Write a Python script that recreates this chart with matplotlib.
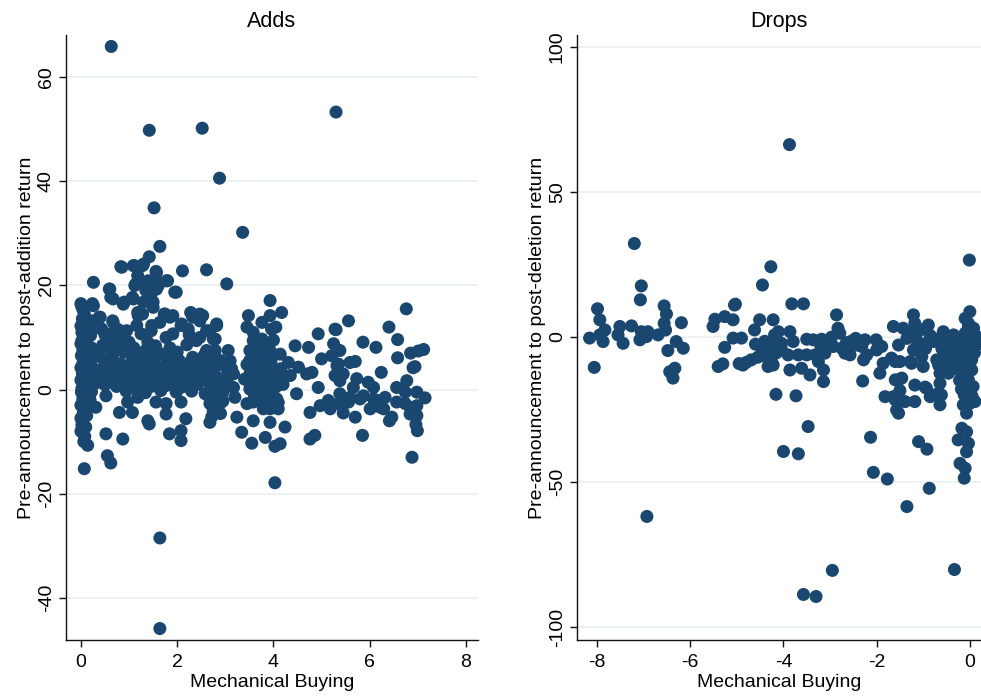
import matplotlib
matplotlib.use("Agg")
import matplotlib.pyplot as plt

plt.rcParams['font.family'] = ['Liberation Sans', 'DejaVu Sans']
plt.rcParams['axes.unicode_minus'] = False

# ---------------- Adds ----------------
adds_pts = [
    (0.63,65.9),(1.42,49.8),(2.52,50.2),(2.88,40.6),(1.52,34.9),(3.36,30.2),(5.3,53.3),(1.64,27.5),
    (1.42,25.5),(0.83,23.6),(1.11,23.8),(1.28,23.8),(1.18,21.9),(1.56,22.7),(2.11,22.8),(0.26,20.6),
    (1.14,20.3),(1.35,20.6),(1.59,20.6),(1.80,20.9),(0.59,19.3),(0.62,17.7),(0.9,16.8),(1.07,17.7),
    (1.35,19.0),(1.46,17.4),(1.56,19.3),(1.98,18.7),(1.18,14.8),(1.28,14.5),(1.73,14.5),(1.91,14.2),
    (0.0,16.5),(0.24,16.5),(0.03,13.6),(0.38,13.9),(0.66,13.2),
    (0.42,11.7),(0.55,10.0),(0.83,10.7),(1.0,9.1),(1.25,10.7),(1.39,9.1),(1.46,11.3),(1.77,10.0),
    (1.91,10.7),(2.08,12.3),(2.32,13.9),(2.53,14.2),
    (0.59,8.1),(0.69,7.5),(0.42,6.2),(0.52,4.9),
    (0.9,7.2),(1.07,6.2),(1.28,5.6),(1.49,6.2),(1.77,6.2),(2.04,5.6),(2.32,6.2),(2.53,6.2),
    (0.52,-1.2),(1.18,-1.5),(0.97,-2.4),(0.8,-4.4),(1.07,-4.4),(0.31,-3.4),(1.56,-2.4),(1.77,-2.7),
    (1.77,-4.7),(2.08,-2.4),(1.39,-6.0),(1.42,-6.6),(0.52,-8.5),(0.87,-9.5),(1.84,-8.5),(2.08,-7.9),
    (2.08,-9.8),(2.18,-5.6),(0.14,-10.7),(0.55,-12.7),(0.62,-14.1),(0.07,-15.2),
    (1.64,-28.5),(1.64,-45.9),(4.03,-17.9),
    (2.61,23.0),(3.03,20.3),(3.93,17.1),(4.17,14.8),(3.48,14.2),(3.45,12.0),(3.76,12.9),(3.93,14.2),
    (3.96,11.6),(2.82,12.6),(2.68,11.3),(2.79,9.7),(3.58,9.4),(3.76,9.7),(3.69,7.5),(3.51,7.5),
    (4.45,8.4),(4.73,8.1),(4.93,10.7),(5.28,11.6),(5.25,8.8),(5.0,5.9),(5.21,6.5),(5.38,7.5),
    (3.06,7.5),(2.58,6.8),(2.79,7.5),(2.58,4.6),(2.79,4.3),(2.99,4.6),(3.13,4.0),(3.93,7.5),
    (4.14,6.8),(4.31,5.2),(4.52,4.3),(4.69,3.0),(4.8,3.3),(4.35,2.7),(3.51,5.6),(3.51,3.0),
    (3.72,4.9),(3.86,4.3),(4.0,3.6),(3.79,2.1),(3.96,1.4),(4.1,2.4),(3.51,0.1),(3.45,-2.7),
    (3.58,-2.4),(3.76,-0.8),(3.93,-0.2),(3.89,-1.8),(4.07,-1.8),(3.79,-3.7),(3.93,-3.7),(4.1,-3.7),
    (3.2,-1.5),(3.24,-5.3),(3.58,-6.0),(3.93,-6.3),(4.24,-7.2),(2.68,-6.3),(3.34,-8.2),(3.55,-10.3),
    (3.83,-9.2),(4.03,-10.9),(4.14,-10.4),(4.76,-9.5),(4.86,-8.8),(4.93,0.4),(5.14,-2.1),(4.97,-3.1),
    (5.18,-3.7),(5.38,-0.8),(5.28,2.7),(5.35,4.9),(4.76,-4.4),(4.48,-0.8),
    (2.61,7.5),(2.75,6.2),(2.89,5.6),(2.61,3.0),(2.82,2.4),(3.03,1.7),(2.68,1.1),(3.17,3.0),
    (3.17,0.4),(2.68,-2.7),(2.89,-2.7),(2.75,-4.0),
    (6.76,15.5),(5.56,13.2),(5.3,11.5),(6.4,12.0),(6.58,9.6),(5.86,9.1),(6.13,8.1),(6.85,7.0),
    (7.01,7.4),(7.12,7.7),(6.58,6.1),(5.32,4.6),(5.59,5.2),(5.7,5.4),(6.9,4.2),(6.94,4.4),
    (6.24,3.3),(5.45,3.0),(5.73,2.1),(5.97,1.4),(5.38,1.7),(5.66,0.4),(6.08,0.4),(6.77,1.7),
    (6.56,0.4),(6.74,-0.5),(6.98,-0.5),(7.15,-1.6),(5.59,-1.5),(5.87,-1.2),(6.08,-1.8),(6.22,-2.1),
    (6.32,-1.5),(5.35,-2.7),(5.56,-2.4),(5.8,-1.8),(6.01,-3.7),(6.22,-3.4),(6.29,-3.7),(6.56,-2.4),
    (6.74,-2.7),(6.84,-3.4),(6.84,-4.7),(6.98,-3.1),(6.98,-5.0),(5.45,-4.5),(5.7,-5.3),(6.46,-5.3),
    (6.41,-6.0),(6.96,-6.7),(6.99,-7.9),(5.85,-8.8),(6.88,-13.0),
    (2.09,12.6),(2.23,11.6),(2.47,14.5),(2.47,13.2),(2.82,12.3),(2.61,11.3),(2.47,10.0),(2.75,9.7),
    (2.28,14.8),(1.75,14.5),(1.85,13.9),(1.47,12.3),(1.64,12.9),(1.16,12.3),(0.43,11.6),(0.6,10.7),
    (0.67,12.9),(1.19,14.2),(1.3,16.8),(1.5,15.8),(0.01,16.1),(0.26,16.1),(0.05,13.6),(0.22,13.2),
    (0.4,13.9),(1.09,17.4),(0.88,16.4),(0.6,19.3),(0.67,17.4),(1.4,20.9),(1.61,20.0),(1.78,20.9),
    (1.12,20.0),(1.37,19.0),(1.57,19.3),(1.4,17.4),(1.5,16.8),(1.95,18.7),(1.3,24.1),(1.09,23.8),
    (1.57,22.5),(0.85,23.5),
    # dense column near zero
    (0.0,-8.0),(0.02,-6.8),(0.0,-5.5),(0.05,-4.3),(0.0,-3.0),(0.04,-1.8),(0.01,-0.5),(0.06,0.6),
    (0.0,1.8),(0.03,3.0),(0.0,4.2),(0.05,5.3),(0.01,6.5),(0.04,7.6),(0.0,8.8),(0.06,9.9),
    (0.02,11.0),(0.0,12.2),(0.05,12.8),(0.07,14.6),(0.1,-7.2),(0.12,-5.0),(0.09,-2.6),(0.13,-0.9),
    (0.1,1.2),(0.14,2.6),(0.09,3.8),(0.12,5.8),(0.1,7.0),(0.15,8.3),(0.11,9.5),(0.14,11.2),
    (0.17,12.6),(0.2,10.4),(0.22,8.0),(0.2,5.1),(0.18,2.0),(0.22,-0.4),(0.19,-2.0),(0.25,3.5),
    (0.27,6.8),(0.3,1.2),(0.08,-9.0),(0.03,-6.1),(0.07,-3.6),(0.02,0.2),(0.08,2.3),(0.03,4.7),
    (0.07,6.0),(0.02,9.4),(0.08,10.6),(0.04,15.4),(0.16,-3.2),(0.15,4.0),(0.24,12.0),(0.06,-10.0),
    # dense band
    (0.38,3.8),(0.45,2.5),(0.5,0.9),(0.55,3.3),(0.6,5.6),(0.65,2.1),(0.7,4.1),(0.74,0.6),
    (0.78,3.0),(0.82,5.0),(0.86,1.7),(0.9,3.7),(0.94,-0.3),(0.98,2.6),(1.02,4.8),(1.06,1.2),
    (1.1,3.3),(1.15,0.2),(1.18,2.2),(1.22,4.4),(1.26,1.0),(1.3,3.0),(1.34,-0.6),(1.38,2.0),
    (1.42,4.2),(1.46,0.6),(1.5,2.8),(1.54,4.9),(1.58,1.5),(1.62,3.6),(1.66,-0.2),(1.7,2.3),
    (1.74,4.5),(1.78,0.8),(1.82,3.0),(1.86,5.2),(1.9,1.6),(1.94,3.7),(1.98,-0.5),(2.02,2.1),
    (2.06,4.2),(2.1,0.5),(2.14,2.8),(2.18,4.9),(2.22,1.3),(2.26,3.4),(2.3,-0.3),(2.34,2.0),
    (2.38,4.4),(2.42,1.0),(2.46,3.1),(2.5,5.2),(2.54,1.8),(2.58,-0.8),(2.62,2.5),(2.66,4.8),
    (2.7,0.2),(2.74,3.0),(2.85,0.8),(2.95,-0.5),
    (0.45,8.5),(0.5,10.5),(0.58,9.3),(0.66,6.7),(0.72,9.0),(0.78,11.5),(0.85,8.3),(0.95,11.3),
    (1.1,8.0),(1.2,6.8),(1.35,7.6),(1.55,8.4),(1.65,6.9),(1.85,8.0),(2.0,7.2),(2.2,8.6),
    (2.4,9.4),(2.25,10.5),
    (3.5,1.5),(3.6,-1.0),(3.65,1.0),(3.7,3.2),(3.8,-2.0),(3.85,0.6),(3.9,2.8),(3.95,5.5),
    (4.05,0.5),(4.1,-2.5),(4.15,4.0),(4.2,1.0),(3.55,4.0),(3.62,6.5),(3.75,6.0),(3.85,8.2),
    (4.0,9.5),(4.05,12.0),(3.58,11.0),(3.4,2.0),(3.45,4.8),
    (2.72,-5.2),(2.8,-3.4),(2.85,-1.6),(2.9,-4.6),(2.95,-2.2),(2.65,-1.2),(2.78,-0.3),
    (3.0,1.0),(3.1,5.5),(3.05,3.5),
]
adds_x = [p[0] for p in adds_pts]
adds_y = [p[1] for p in adds_pts]

# ---------------- Drops ----------------
drops_pts = [
    (-3.87,66.3),(-7.2,32.2),(-0.01,26.5),(-6.93,-61.9),(-3.57,-88.8),(-3.3,-89.5),(-2.95,-80.5),
    (-0.33,-80.2),(-1.35,-58.5),(-0.87,-52.2),(-1.77,-49.0),(-2.07,-46.7),(-2.13,-34.6),(-1.1,-36.1),
    (-0.92,-38.7),(-4.0,-39.5),(-3.68,-40.3),(-3.47,-30.9),(-4.16,-19.8),(-3.73,-20.3),
    (-4.27,24.2),(-4.45,17.9),(-7.05,17.6),(-7.07,12.8),(-7.99,9.7),(-6.56,10.7),(-6.51,7.9),
    (-6.56,4.7),(-6.53,2.4),(-6.19,4.9),(-5.03,11.3),(-7.94,5.9),(-7.83,2.4),(-8.16,-0.4),
    (-7.87,-1.6),(-7.94,0.7),(-7.51,3.6),(-7.55,0.7),(-7.44,-2.2),(-7.26,3.8),(-7.05,1.8),
    (-6.91,1.8),(-7.08,-1.0),(-6.94,0.1),(-6.69,0.7),(-6.48,-4.7),(-6.3,-1.6),(-6.15,-3.9),
    (-6.44,-12.0),(-6.33,-10.8),(-6.37,-14.2),(-8.06,-10.5),(-5.47,6.1),(-5.51,3.6),(-5.26,7.0),
    (-5.08,5.9),(-5.05,11.0),(-5.26,-3.6),(-5.4,-10.2),(-5.3,-9.3),(-5.08,-0.4),(-4.9,-0.4),
    (-4.87,-9.7),(-4.62,2.4),(-4.51,5.9),(-4.69,-7.9),(-4.47,-3.9),(-4.37,-6.8),(-4.26,-7.9),
    (-4.22,5.9),(-4.19,0.7),(-4.33,-10.2),
    (-3.82,11.4),(-3.57,11.4),(-2.86,7.6),(-4.11,1.8),(-3.86,1.8),(-4.22,-2.2),(-4.04,-2.2),
    (-3.79,-1.6),(-3.5,-0.8),(-3.36,-1.0),(-3.18,-0.8),(-2.97,-0.1),(-2.83,3.0),(-2.79,1.3),
    (-4.22,-9.7),(-3.9,-6.2),(-3.68,-6.2),(-3.5,-6.2),(-3.32,-6.2),(-3.25,-8.5),(-3.14,-11.4),
    (-3.11,-5.6),(-3.86,-11.4),(-3.61,-10.8),(-3.43,-13.1),(-3.14,-15.4),(-2.93,-3.3),(-2.75,-3.9),
    (-2.57,-3.3),(-2.43,-2.8),(-2.32,-3.3),(-2.21,-6.2),(-2.28,-7.9),(-2.57,-6.2),(-2.68,-5.6),
    (-2.3,-15.2),(-2.01,-1.0),(-1.89,-3.3),(-2.0,-4.5),(-1.86,-9.1),(-1.93,-12.5),(-1.64,3.6),
    (-1.43,3.0),(-1.21,7.6),(-1.18,4.7),(-0.89,4.1),(-1.53,-2.8),(-1.68,-7.3),(-1.6,-8.5),
    (-1.5,-8.5),(-1.28,-8.5),(-1.14,-4.5),(-1.03,-6.8),(-0.93,-2.2),(-0.78,-1.6),(-0.57,1.8),
    (-0.35,0.7),(-0.42,-3.3),(-0.32,-5.6),(-0.71,-7.9),(-0.67,-9.7),(-0.64,-12.5),(-0.46,-12.5),
    (-1.6,-14.8),(-1.53,-14.8),(-1.5,-18.5),(-1.64,-20.6),(-1.39,-22.3),(-1.18,-22.3),(-1.57,-25.2),
    (-1.53,-26.3),(-0.96,-17.3),(-0.82,-20.0),(-0.61,-20.0),(-0.64,-23.4),(-1.18,-16.6),
    (0.0,8.7),(-0.1,6.4),(-0.03,3.6),(-0.1,1.3),(0.0,-1.0),(-0.07,-4.5),(0.04,-7.9),(-0.1,-12.5),
    (-0.03,-14.8),(0.07,-17.1),(-0.03,4.7),(0.02,1.8),(-0.05,-2.2),(-0.01,-6.2),(0.04,-11.4),
    (-0.05,-10.2),(-0.14,-23.4),(0.0,-22.9),(0.11,-22.3),(-0.07,-26.3),(-0.17,-31.5),(-0.07,-32.7),
    (-0.25,-35.5),(-0.03,-36.7),(-0.07,-39.6),(-0.21,-43.6),(-0.1,-45.3),(-0.12,-48.7),
    (-1.14,-1.0),(-1.21,-4.5),(-1.25,-9.1),(-1.0,-10.2),(-0.64,-16.0),(-0.67,-19.4),(-0.85,-20.6),
    (-1.82,-20.6),(-1.6,-21.7),(-0.93,-17.7),(-1.46,-14.2),
    (0.05,-3.5),(-0.08,-8.5),(0.08,3.0),(-0.12,-1.5),(0.12,0.5),(-0.15,-6.0),(0.1,-5.5),
    (-0.06,-19.0),(0.05,-20.5),(-0.2,-2.0),(-0.25,-8.0),(-0.3,-11.0),(-0.22,-15.0),(-0.18,-18.0),
    (0.13,-3.0),(0.18,-1.5),
    (-0.5,-3.0),(-0.4,-7.0),(-0.3,-9.5),(-0.2,-12.0),(-0.15,-16.0),(-0.12,-20.0),(-0.55,-5.5),
    (-0.25,-4.0),(-0.38,-1.0),
    (-2.55,-1.5),(-2.45,-0.5),(-2.25,-1.0),(-2.65,-2.0),(-3.05,-2.5),(-3.2,-3.0),
    (-4.8,-8.8),(-4.95,-9.2),(-4.55,-7.0),(-4.6,-2.5),(-4.4,-1.5),(-4.3,-4.5),(-4.15,-5.5),
    (-4.05,-3.8),
    (-1.35,-0.5),(-1.25,1.5),(-1.05,2.5),(-0.85,0.5),(-0.65,-0.5),(-0.95,-4.0),(-0.55,-9.0),
    (-0.48,-6.5),(-0.6,-4.0),
]
drops_x = [p[0] for p in drops_pts]
drops_y = [p[1] for p in drops_pts]

adds_xticks = [0, 2, 4, 6, 8]
adds_yticks = [-40, -20, 0, 20, 40, 60]
drops_xticks = [-8, -6, -4, -2, 0]
drops_yticks = [-100, -50, 0, 50, 100]

navy = '#1a476f'
grid_c = '#eaf2f3'

fig = plt.figure(figsize=(9.81, 6.98), dpi=100)
ax1 = fig.add_axes([66/981, 1-640/698, (478-66)/981, (640-35)/698])
ax2 = fig.add_axes([577/981, 1-640/698, (981-577)/981, (640-35)/698])

def style(ax, title, ylabel, xticks, yticks):
    for s in ['top', 'right']:
        ax.spines[s].set_visible(False)
    for s in ['left', 'bottom']:
        ax.spines[s].set_linewidth(1.0)
        ax.spines[s].set_color('#111111')
    ax.set_xticks(xticks)
    ax.set_yticks(yticks)
    ax.set_yticklabels([str(v) for v in yticks], rotation=90, va='center')
    ax.set_xticklabels([str(v) for v in xticks])
    ax.tick_params(axis='both', direction='out', length=5, width=1.0, labelsize=14, pad=3,
                   color='#111111')
    ax.tick_params(axis='x', pad=5)
    ax.yaxis.grid(True, color=grid_c, linewidth=1.5)
    ax.set_axisbelow(True)
    ax.set_title(title, fontsize=15.5, pad=6)
    ax.set_xlabel('Mechanical Buying', fontsize=14, labelpad=2)
    ax.set_ylabel(ylabel, fontsize=14, labelpad=2)

ax1.scatter(adds_x, adds_y, s=88, color=navy, edgecolors='none', zorder=3)
ax1.set_xlim(-0.31, 8.25)
ax1.set_ylim(-48.1, 68.1)
style(ax1, 'Adds', 'Pre-announcement to post-addition return', adds_xticks, adds_yticks)

ax2.scatter(drops_x, drops_y, s=88, color=navy, edgecolors='none', zorder=3, clip_on=True)
ax2.set_xlim(-8.43, 0.24)
ax2.set_ylim(-104.5, 104.1)
style(ax2, 'Drops', 'Pre-announcement to post-deletion return', drops_xticks, drops_yticks)

fig.savefig('out.png', dpi=100, facecolor='white')
